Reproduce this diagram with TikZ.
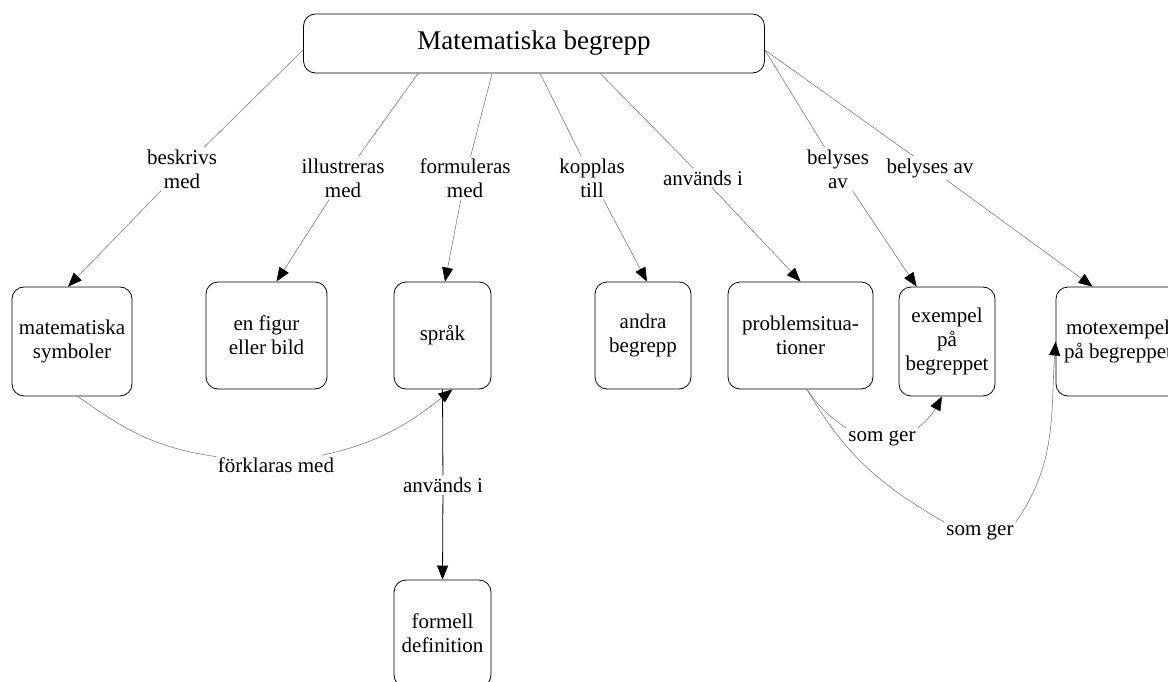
\documentclass[tikz,border=0pt]{standalone}
\usepackage{fontspec}
\setmainfont{Liberation Serif}
\usetikzlibrary{arrows.meta}

\begin{document}
\begin{tikzpicture}[x=1pt, y=1pt,
        box/.style={draw=black, line width=0.8pt, rounded corners=12pt, align=center,
            minimum height=107pt, inner sep=4pt, font=\fontsize{21}{24}\selectfont},
        lbl/.style={align=center, inner sep=2pt, font=\fontsize{21}{24}\selectfont},
        link/.style={draw=gray, line width=0.6pt},
        pil/.style={link, -{Triangle[length=14pt, width=11pt, color=black]}}]
        \useasboundingbox (0,0) rectangle (1168,-682);
        \begin{scope}
            \node[box, minimum width=461pt, minimum height=59pt,
                font=\fontsize{27}{30}\selectfont] (begrepp) at (534,-43.5) {Matematiska begrepp};

            \node[box, minimum width=120pt, minimum height=109pt] (symboler) at (72,-341.5) {matematiska\\symboler};
            \node[box, minimum width=121pt] (figur) at (266.5,-335.5) {en figur\\eller bild};
            \node[box, minimum width=97pt] (sprak) at (442.5,-335.5) {språk};
            \node[box, minimum width=96pt] (andra) at (643,-335.5) {andra\\begrepp};
            \node[box, minimum width=145pt] (problem) at (800.5,-335.5) {problemsitua-\\tioner};
            \node[box, minimum width=96pt, minimum height=109pt] (exempel) at (947,-341.5) {exempel\\på\\begreppet};
            \node[box, minimum width=124pt, minimum height=109pt] (motex) at (1118,-341.5) {motexempel\\på begreppet};
            \node[box, minimum width=97pt] (definition) at (442.5,-633.5) {formell\\definition};

            \node[lbl] (beskrivs) at (182,-169) {beskrivs\\med};
            \node[lbl] (illustreras) at (343,-178) {illustreras\\med};
            \node[lbl] (formuleras) at (465,-178) {formuleras\\med};
            \node[lbl] (kopplas) at (592,-178) {kopplas\\till};
            \node[lbl] (anvandsA) at (703,-178) {används i};
            \node[lbl] (belysesA) at (838,-169) {belyses\\av};
            \node[lbl] (belysesB) at (930,-168) {belyses av};
            \node[lbl] (forklaras) at (276,-465) {förklaras med};
            \node[lbl] (anvandsB) at (443,-485) {används i};
            \node[lbl] (somgerA) at (882,-438) {som ger};
            \node[lbl] (somgerB) at (980,-532) {som ger};

            \draw[link] ([yshift=-6.5pt]begrepp.west) -- (beskrivs);
            \draw[pil] (beskrivs) -- ([xshift=-4pt]symboler.north);
            \draw[link] ([xshift=115pt]begrepp.south west) -- (illustreras);
            \draw[pil] (illustreras) -- ([xshift=10pt]figur.north);
            \draw[link] ([xshift=189pt]begrepp.south west) -- (formuleras);
            \draw[pil] (formuleras) -- ([xshift=2.5pt]sprak.north);
            \draw[link] ([xshift=237pt]begrepp.south west) -- (kopplas);
            \draw[pil] (kopplas) -- ([xshift=4pt]andra.north);
            \draw[link] ([xshift=297pt]begrepp.south west) -- (anvandsA);
            \draw[pil] (anvandsA) -- (problem.north);
            \draw[link] ([yshift=-6.5pt]begrepp.east) -- (belysesA);
            \draw[pil] (belysesA) -- ([xshift=18pt]exempel.north west);
            \draw[link] ([yshift=-6.5pt]begrepp.east) -- (belysesB);
            \draw[pil] (belysesB) -- ([xshift=37pt]motex.north west);

            \draw[link] ([xshift=6pt]symboler.south) to[out=-36, in=172] (forklaras);
            \draw[pil] (forklaras) to[out=12, in=-142] ([xshift=10pt]sprak.south);
            \draw[link, draw=black, line width=0.8pt] (sprak.south) -- (anvandsB);
            \draw[pil, draw=black, line width=0.8pt] (anvandsB) -- (definition.north);

            \draw[link] ([xshift=6.5pt]problem.south) to[out=-56, in=145] (somgerA.north west);
            \draw[pil] (somgerA.north east) to[out=40, in=-118] ([xshift=-5pt]exempel.south);
            \draw[link] ([xshift=6.5pt]problem.south) to[out=-60, in=150] (somgerB.north west);
            \draw[pil] (somgerB.north east) to[out=55, in=-94] (motex.west);
        \end{scope}
\end{tikzpicture}
\end{document}
